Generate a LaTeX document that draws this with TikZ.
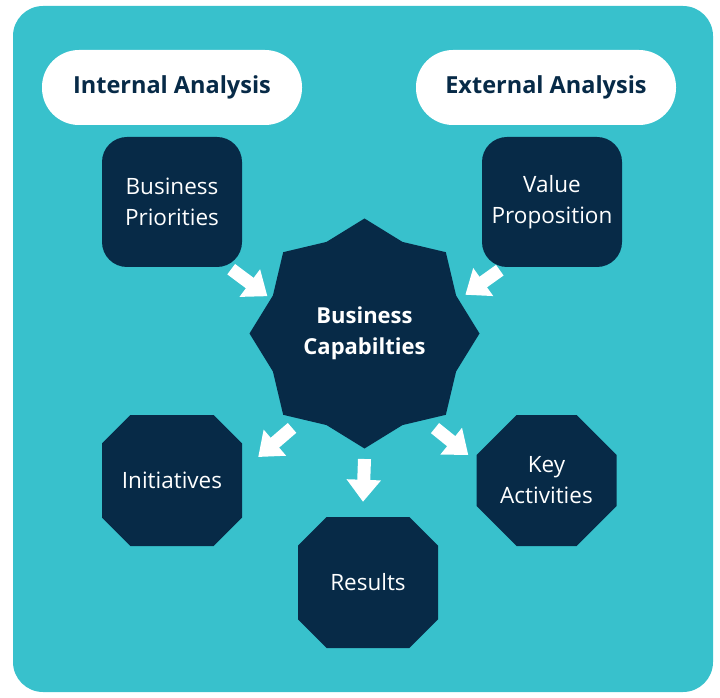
\documentclass[tikz,border=0pt]{standalone}
\usepackage{fontspec}
\setmainfont{Open Sans}
\usetikzlibrary{shapes.geometric,shapes.misc,arrows.meta}
\definecolor{teal1}{HTML}{38C1CC}
\definecolor{navy1}{HTML}{072A47}

\begin{document}
\begin{tikzpicture}[x=1pt, y=1pt,
	pill/.style = {fill=white, rounded corners=37pt, minimum width=260pt, minimum height=75pt, text=navy1, font=\fontsize{23.5}{31}\selectfont\bfseries},
	box/.style = {fill=navy1, rounded corners=25pt, minimum width=140pt, minimum height=130pt, text=white, align=center, font=\fontsize{22.5}{31}\selectfont},
	oct/.style = {fill=navy1, chamfered rectangle, chamfered rectangle xsep=20pt, chamfered rectangle ysep=20pt, minimum width=140pt, minimum height=131pt, inner sep=0pt, text=white, align=center, font=\fontsize{22.5}{31}\selectfont},
	hub/.style = {fill=navy1, star, star points=8, star point ratio=1.16, minimum size=230pt, inner sep=0pt, text=white, align=center, font=\fontsize{22}{31}\selectfont\bfseries},
	blk/.style = {white, line width=13pt, -{Triangle[width=33pt,length=22pt]}}]
		\useasboundingbox (0,0) rectangle (720,697);
		\fill[teal1, rounded corners=30pt] (13,5) rectangle (713,691);
		
		\node[pill] (int) at (172,609.5) {Internal Analysis};
		\node[pill] (ext) at (546,609.5) {External Analysis};
		\node[box] (bp) at (172,495) {Business\\Priorities};
		\node[box] (vp) at (552,495) {Value\\Proposition};
		\node[hub] (cap) at (364.5,363.5) {Business\\Capabilties};
		\node[oct] (ini) at (172,216.5) {Initiatives};
		\node[oct] (res) at (368,114.5) {Results};
		\node[oct] (key) at (546.5,216.5) {Key\\Activities};
		
		\draw[blk] ([shift={(-11,-2)}]bp.south east) -- ([shift={(159:104)}]cap.center);
		\draw[blk] ([shift={(18,-3)}]vp.south west) -- ([shift={(21:108)}]cap.center);
		\draw[blk] ([shift={(232.5:119)}]cap.center) -- ([shift={(16,23.5)}]ini.east);
		\draw[blk] ([shift={(270:125.5)}]cap.center) -- ([shift={(-5,15)}]res.north);
		\draw[blk] ([shift={(-53.3:118)}]cap.center) -- ([shift={(-8,25.5)}]key.west);
\end{tikzpicture}
\end{document}
